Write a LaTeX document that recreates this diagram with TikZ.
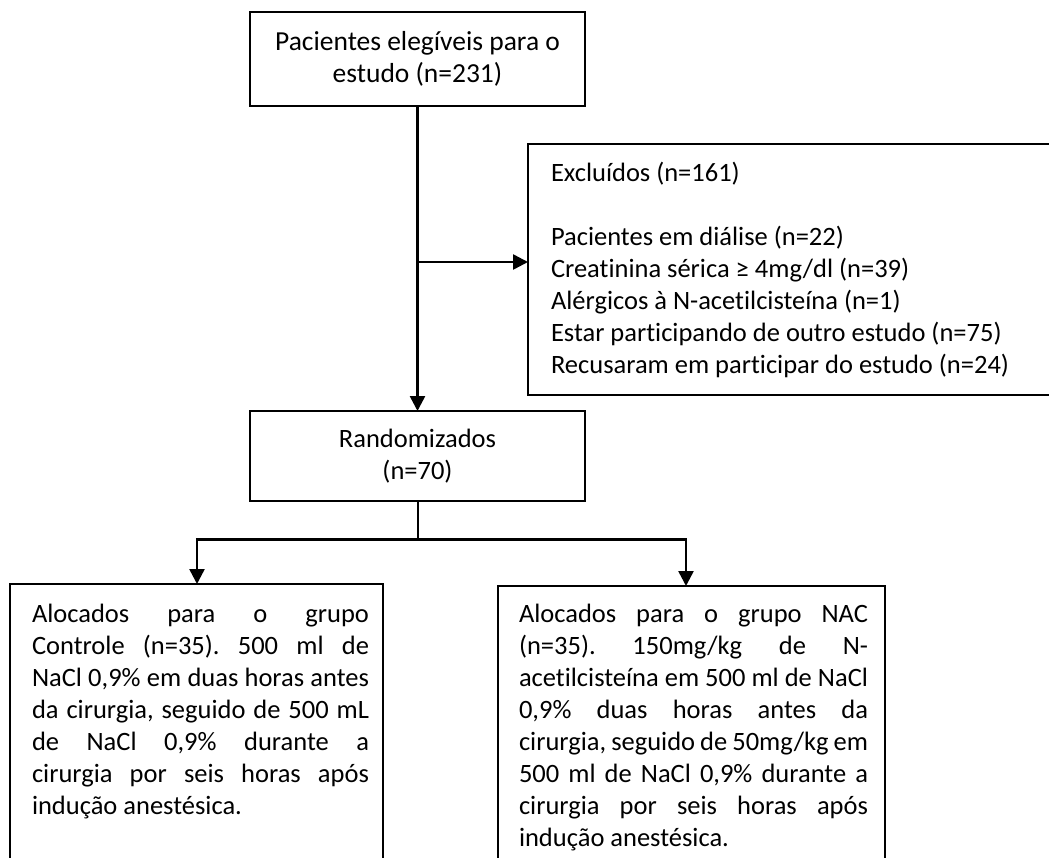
\documentclass[tikz,border=0pt]{standalone}
\usepackage{fontspec}
\setmainfont{Carlito}[Ligatures={NoCommon}]
\usetikzlibrary{arrows.meta}
\frenchspacing
\newcommand\nsp{\spaceskip=0pt\xspaceskip=0pt\relax}
\newcommand\jline[2]{\makebox[#1][s]{\nsp #2}}
\tikzset{
  boxnode/.style={draw=black, line width=2pt, rectangle, inner sep=0pt, outer sep=0pt, anchor=north west},
  txt/.style={font=\fontsize{26.5}{32}\selectfont, inner sep=0pt, outer sep=0pt},
  bigtxt/.style={font=\fontsize{27.5}{32}\selectfont, inner sep=0pt, outer sep=0pt},
  arr/.style={line width=2.5pt, -{Triangle[length=15pt,width=15pt]}},
}
\begin{document}
\begin{tikzpicture}[x=1pt,y=-1pt]
\useasboundingbox (0,0) rectangle (1049,857);
\clip (0,0) rectangle (1049,857);
% boxes
\node[boxnode, minimum width=335pt, minimum height=94pt, align=center, bigtxt] (top) at (250,12) {\nsp Pacientes elegíveis para o\\estudo (n=231)};
\node[boxnode, minimum width=335pt, minimum height=90pt, align=center, txt] (rand) at (250,411) {\nsp Randomizados\\(n=70)};
\node[boxnode, minimum width=560pt, minimum height=251pt] (excl) at (528,144) {};
\node[boxnode, line width=1.8pt, minimum width=373pt, minimum height=320pt] (left) at (10,584) {};
\node[boxnode, line width=1.8pt, minimum width=387pt, minimum height=320pt] (right) at (498,586) {};
% texts
\node[txt, anchor=base west, text width=480pt, align=left] (excltext) at (551,181) {\nsp Excluídos (n=161)\\[32pt]Pacientes em diálise (n=22)\\Creatinina sérica ≥ 4mg/dl (n=39)\\Alérgicos à N-acetilcisteína (n=1)\\Estar participando de outro estudo (n=75)\\Recusaram em participar do estudo (n=24)};
\node[txt, anchor=base west, text width=337pt, align=left] (lefttext) at (32,622) {%
\jline{337pt}{Alocados para o grupo}\\
\jline{337pt}{Controle (n=35). 500 ml de}\\
\jline{337pt}{NaCl 0,9\% em duas horas antes}\\
\jline{337pt}{da cirurgia, seguido de 500 mL}\\
\jline{337pt}{de NaCl 0,9\% durante a}\\
\jline{337pt}{cirurgia por seis horas após}\\
\nsp indução anestésica.};
\node[txt, anchor=base west, text width=349pt, align=left] (righttext) at (519,622) {%
\jline{349pt}{Alocados para o grupo NAC}\\
\jline{349pt}{(n=35). 150mg/kg de N-}\\
\jline{349pt}{acetilcisteína em 500 ml de NaCl}\\
\jline{349pt}{0,9\% duas horas antes da}\\
\jline{349pt}{cirurgia, seguido de 50mg/kg em}\\
\jline{349pt}{500 ml de NaCl 0,9\% durante a}\\
\jline{349pt}{cirurgia por seis horas após}\\
\nsp indução anestésica.};
% connectors
\draw[arr] (top.south) -- (rand.north);
\coordinate (branch) at (top.south |- 0,262);
\draw[arr] (branch) -- (excl.west |- branch);
\coordinate (barmid) at (rand.south |- 0,539);
\coordinate (barL) at (197,539);
\coordinate (barR) at (686,539);
\draw[line width=2pt] (rand.south) -- (barmid);
\draw[line width=3pt] ([xshift=-1.25pt]barL) -- ([xshift=1.25pt]barR);
\draw[arr] (barL) -- (barL |- left.north);
\draw[arr] (barR) -- (barR |- right.north);
\end{tikzpicture}
\end{document}
